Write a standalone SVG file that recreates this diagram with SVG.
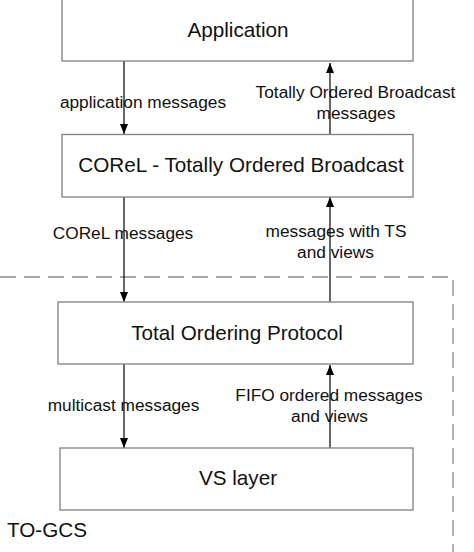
<svg xmlns="http://www.w3.org/2000/svg" width="474" height="552" viewBox="0 0 474 552">
<defs>
<style>
.box{fill:#fff;stroke:#808080;stroke-width:1.3}
.t{font-family:"Liberation Sans",Arial,sans-serif;fill:#111;text-anchor:middle}
.n{font-size:20.7px}
.e{font-size:17.3px}
.c{stroke:#000;stroke-width:1.2;fill:none}
.d{stroke:#8a8a8a;stroke-width:1.3;fill:none;stroke-dasharray:16 8}
</style>
<marker id="ah" viewBox="0 0 10 8" refX="10" refY="4" markerWidth="10" markerHeight="8" markerUnits="userSpaceOnUse" orient="auto">
<path d="M0,0 L10,4 L0,8 Z" fill="#000"/>
</marker>
</defs>
<rect width="474" height="552" fill="#fff"/>
<g id="tcgs-boundary">
<path class="d" d="M0,277 H453 V552"/>
<text class="t n" x="7" y="537" style="text-anchor:start">TO-GCS</text>
</g>
<g id="connectors">
<line class="c" x1="124" y1="61" x2="124" y2="134" marker-end="url(#ah)"/>
<line class="c" x1="330" y1="134" x2="330" y2="63" marker-end="url(#ah)"/>
<line class="c" x1="124" y1="197" x2="124" y2="302" marker-end="url(#ah)"/>
<line class="c" x1="330" y1="302" x2="330" y2="197" marker-end="url(#ah)"/>
<line class="c" x1="124" y1="364" x2="124" y2="448" marker-end="url(#ah)"/>
<line class="c" x1="330" y1="448" x2="330" y2="365" marker-end="url(#ah)"/>
<text class="t e" x="143" y="108">application messages</text>
<text class="t e" x="355.5" y="98">Totally Ordered Broadcast</text>
<text class="t e" x="356" y="119">messages</text>
<text class="t e" x="123" y="239">COReL messages</text>
<text class="t e" x="336" y="237">messages with TS</text>
<text class="t e" x="335.5" y="258">and views</text>
<text class="t e" x="123.5" y="411">multicast messages</text>
<text class="t e" x="329" y="401">FIFO ordered messages</text>
<text class="t e" x="329.5" y="422">and views</text>
</g>
<g id="application">
<rect class="box" x="62" y="-5" width="351" height="66"/>
<text class="t n" x="238" y="37">Application</text>
</g>
<g id="corel">
<rect class="box" x="62" y="134.5" width="351" height="62.5"/>
<text class="t n" x="241" y="172">COReL - Totally Ordered Broadcast</text>
</g>
<g id="total-ordering-protocol">
<rect class="box" x="58" y="302" width="355" height="62"/>
<text class="t n" x="237" y="340">Total Ordering Protocol</text>
</g>
<g id="vs-layer">
<rect class="box" x="60" y="448" width="353" height="62"/>
<text class="t n" x="238" y="485">VS layer</text>
</g>
</svg>
